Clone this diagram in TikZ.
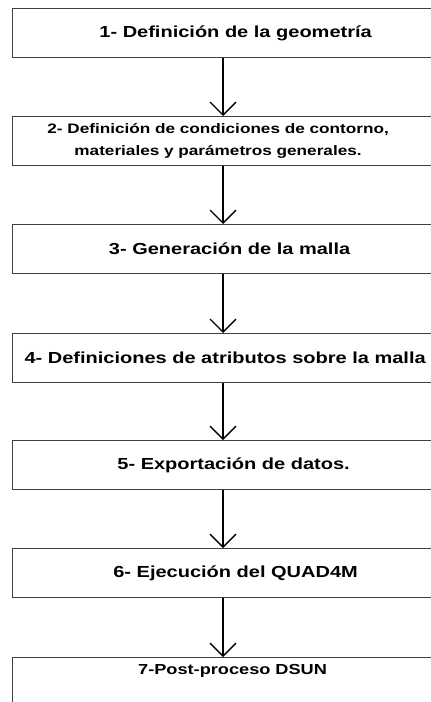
\documentclass[tikz,border=0pt]{standalone}
\usepackage{fontspec}
\setmainfont{Liberation Sans}
\newfontfamily\widesans[FakeStretch=1.25]{Liberation Sans}
\usetikzlibrary{arrows.meta,positioning,calc}

\tikzset{
  stage/.style={draw=black!75, line width=0.9pt, minimum width=330pt, minimum height=36.75pt,
    anchor=north west, inner sep=0pt},
  stagetext/.style={font=\widesans\bfseries\fontsize{12}{15.75}\selectfont, align=center},
  stagesmall/.style={font=\widesans\bfseries\fontsize{10.3}{16.5}\selectfont, align=center},
  flow/.style={-{Straight Barb[length=9.75pt, width=19.5pt]}, line width=1pt},
}

\begin{document}
\begin{tikzpicture}[x=0.75pt, y=-0.75pt]
    \useasboundingbox (0,0) rectangle (430,702);
    % stages
    \node[stage, label={[stagetext, xshift=2.25pt]center:1- Definición de la geometría}] (b1) at (12,8) {};
    \node[stage, label={[stagesmall, xshift=-10.9pt]center:2- Definición de condiciones de contorno,\\materiales y parámetros generales.}] (b2) at (12,116) {};
    \node[stage, label={[stagetext, xshift=-2.25pt]center:3- Generación de la malla}] (b3) at (12,224) {};
    \node[stage, label={[stagetext, xshift=-5.6pt]center:4- Definiciones de atributos sobre la malla}] (b4) at (12,333) {};
    \node[stage, label={[stagetext, xshift=0.75pt]center:5- Exportación de datos.}] (b5) at (12,440) {};
    \node[stage, label={[stagetext, xshift=2.25pt]center:6- Ejecución del QUAD4M}] (b6) at (12,548) {};
    \node[stage, label={[stagesmall, font=\widesans\bfseries\fontsize{10.9}{13}\selectfont, yshift=8.6pt]center:7-Post-proceso DSUN}] (b7) at (12,657) {};
    % arrows
    \coordinate (ax) at (223,0);
    \foreach \a/\b in {b1/b2,b2/b3,b3/b4,b4/b5,b5/b6,b6/b7}{
      \draw[flow] (\a.south -| ax) -- (\b.north -| ax);
    }
\end{tikzpicture}
\end{document}
